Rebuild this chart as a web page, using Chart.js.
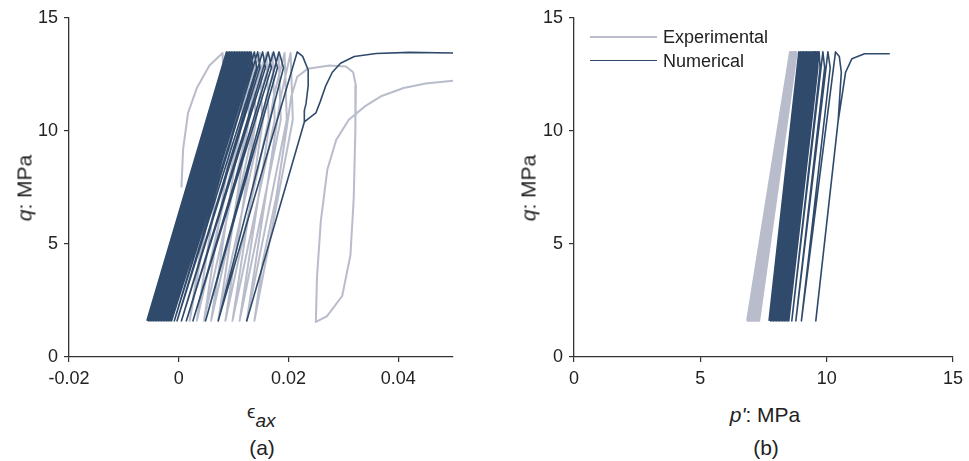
<!DOCTYPE html>
<html>
<head>
<meta charset="utf-8">
<script src="https://cdn.jsdelivr.net/npm/chart.js@4.4.1/dist/chart.umd.min.js"></script>
<style>
    body { margin: 0; background: #fff; }
    #wrap { position: relative; width: 969px; height: 461px; overflow: hidden;
            font-family: "Liberation Sans", Arial, sans-serif; color: #222; }
    #wrap canvas { position: absolute; top: 0; }
    .lbl { position: absolute; white-space: nowrap; font-size: 21px; line-height: 1; }
    .rot { transform: translate(-50%, -50%) rotate(-90deg); }
    .ctr { transform: translate(-50%, -50%); }
    .key { position: absolute; height: 0; width: 67px; border-top: 2px solid; }
    .keytxt { position: absolute; font-size: 18px; line-height: 1; transform: translateY(-50%); }
</style>
</head>
<body>
<div id="wrap">
    <canvas id="chartA" width="480" height="400" style="left:0"></canvas>
    <canvas id="chartB" width="469" height="400" style="left:500px"></canvas>

    <div class="lbl rot" style="left:24px; top:188px"><i>q</i>: MPa</div>
    <div class="lbl" style="left:247px; top:402px; font-size:19px">&#1013;<sub style="font-size:19px; font-style:italic; position:relative; top:4px">ax</sub></div>
    <div class="lbl ctr" style="left:262px; top:447px">(a)</div>

    <div class="lbl rot" style="left:528px; top:188px"><i>q</i>: MPa</div>
    <div class="lbl ctr" style="left:765px; top:414px"><i>p'</i>: MPa</div>
    <div class="lbl ctr" style="left:766px; top:447px">(b)</div>

    <div class="key" style="left:590px; top:36px; border-color:#b9bccb"></div>
    <div class="keytxt" style="left:663px; top:37px">Experimental</div>
    <div class="key" style="left:590px; top:60px; border-color:#2f4a6b; border-top-width:1.6px"></div>
    <div class="keytxt" style="left:663px; top:61px">Numerical</div>
</div>

<script>
const EXP_COLOR = '#b9bccb';
const NUM_COLOR = '#2f4a6b';

// Deviator stress limits of the load cycles (MPa)
const qLow = 1.6;
const qHigh = 13.5;
const qShoulder = 12.8;

// ---- (a) q vs axial strain ----
const xTicksA = [-0.02, 0, 0.02, 0.04];
const yTicks = [0, 5, 10, 15];

// numerical cycles: strain at bottom / top of each reloading line,
// and where the unloading branch passes q = 12.8
const numBottomA = [-0.0058, -0.0055, -0.0052, -0.0049, -0.0046, -0.0043, -0.0040, -0.0037,
    -0.0034, -0.0031, -0.0028, -0.0025, -0.0022, -0.0019, -0.0016, -0.0013,
    -0.0008, -0.0003, 0.0005, 0.0014, 0.0026, 0.0049, 0.0072];
const numTopA = [0.0087, 0.0090, 0.0093, 0.0096, 0.0099, 0.0102, 0.0105, 0.0108,
    0.0111, 0.0114, 0.0117, 0.0120, 0.0123, 0.0126, 0.0129, 0.0132,
    0.0138, 0.0144, 0.0153, 0.0163, 0.0173, 0.0183, 0.0216];
const numShoulderA = [0.0090, 0.0093, 0.0096, 0.0099, 0.0102, 0.0105, 0.0108, 0.0111,
    0.0114, 0.0117, 0.0120, 0.0123, 0.0126, 0.0129, 0.0132, 0.0135,
    0.0142, 0.0148, 0.0158, 0.0169, 0.0180, 0.0191];
// last unloading, final reloading and failure plateau
const numTailA = [[0.0226, 13.3], [0.0236, 12.7], [0.0236, 12.0], [0.0232, 11.2], [0.0229, 10.9],
    [0.0229, 10.4], [0.0124, 1.6], [0.0229, 10.4], [0.0250, 10.8], [0.0258, 11.3],
    [0.0268, 12.0], [0.0280, 12.6], [0.0295, 13.0], [0.0320, 13.3], [0.0360, 13.43],
    [0.0420, 13.48], [0.0500, 13.45]];

// experimental: first loading, then loops (bottom, knee, top, shoulder), then failure
const expStartA = [[0.0005, 7.5], [0.0008, 9.2], [0.0017, 10.8], [0.0033, 11.9],
    [0.0056, 12.9], [0.0080, 13.45], [0.0084, 10.5]];
const expBottomA = [0.0020, 0.0033, 0.0046, 0.0059, 0.0072, 0.0085, 0.0098, 0.0111, 0.0124];
const expKneeA = [0.0082, 0.0095, 0.0108, 0.0121, 0.0134, 0.0147, 0.0160, 0.0173, 0.0186];
const expTopA = [0.0112, 0.0124, 0.0136, 0.0148, 0.0160, 0.0171, 0.0182, 0.0193, 0.0204];
const expShoulderA = [0.0116, 0.0128, 0.0140, 0.0152, 0.0164, 0.0175, 0.0186, 0.0197, 0.0208];
const expTailA = [[0.0138, 1.6], [0.0153, 4.2], [0.0178, 7.1], [0.0196, 10.0], [0.0205, 11.5],
    [0.0216, 12.4], [0.0235, 12.75], [0.0275, 12.9], [0.0305, 12.85], [0.0318, 12.6],
    [0.0323, 12.0], [0.0322, 10.0], [0.0319, 7.0], [0.0313, 4.5], [0.0298, 2.7],
    [0.0270, 1.8], [0.0250, 1.55], [0.0252, 3.5], [0.0259, 6.0], [0.0271, 8.3],
    [0.0287, 9.6], [0.0310, 10.5], [0.0340, 11.1], [0.0370, 11.55], [0.0410, 11.9],
    [0.0450, 12.1], [0.0500, 12.22]];

// ---- (b) q vs mean effective stress ----
const xTicksB = [0, 5, 10, 15];
const numBottomB = [7.72, 7.78, 7.84, 7.90, 7.96, 8.02, 8.08, 8.14, 8.20, 8.26, 8.32, 8.38,
    8.44, 8.50, 8.62, 8.78, 9.00];
const numTopB = [8.90, 8.96, 9.02, 9.08, 9.14, 9.20, 9.26, 9.32, 9.38, 9.44, 9.50, 9.56,
    9.62, 9.70, 9.85, 10.05, 10.35];
const numShoulderB = [8.93, 8.99, 9.05, 9.11, 9.17, 9.23, 9.29, 9.35, 9.41, 9.47, 9.53, 9.59,
    9.65, 9.74, 9.92, 10.14];
const numTailB = [[10.5, 13.3], [10.58, 12.6], [10.5, 11.2], [10.45, 10.4], [9.57, 1.6],
    [10.45, 10.4], [10.6, 11.5], [10.75, 12.6], [11.0, 13.2], [11.5, 13.42], [12.5, 13.42]];
const expBottomB = [6.85, 6.88, 6.91, 6.94, 6.97, 7.00, 7.04, 7.08, 7.13, 7.19, 7.26, 7.33];
const expTopB = [8.55, 8.57, 8.59, 8.61, 8.63, 8.65, 8.67, 8.69, 8.72, 8.75, 8.78, 8.82];

function cyclePath(bottoms, tops, shoulders) {
    // zig-zag between the lower and upper stress limit
    const pts = [];
    for (let i = 0; i < bottoms.length; i++) {
        pts.push({ x: bottoms[i], y: qLow });
        pts.push({ x: tops[i], y: qHigh });
        if (shoulders && i < shoulders.length) {
            pts.push({ x: shoulders[i], y: qShoulder });
        }
    }
    return pts;
}

function pairs(list) {
    return list.map(p => ({ x: p[0], y: p[1] }));
}

function expLoopsA() {
    let pts = pairs(expStartA);
    for (let i = 0; i < expBottomA.length; i++) {
        pts.push({ x: expBottomA[i], y: qLow });
        pts.push({ x: expKneeA[i], y: 11.5 });
        pts.push({ x: expTopA[i], y: 13.45 });
        pts.push({ x: expShoulderA[i], y: 10.5 });
    }
    return pts.concat(pairs(expTailA));
}

function line(data, color, width) {
    return {
        data: data,
        showLine: true,
        borderColor: color,
        backgroundColor: color,
        borderWidth: width,
        borderJoinStyle: 'round',
        pointRadius: 0,
        tension: 0,
        fill: false
    };
}

const font = { family: '"Liberation Sans", Arial, sans-serif', size: 18 };

function makeChart(id, datasets, xMin, xMax, xTicks, yWidth, padRight) {
    const axisLine = { display: true, color: '#333', width: 1.3 };
    const tickGrid = { drawOnChartArea: false, drawTicks: true, tickLength: 5, color: '#333', lineWidth: 1.2 };
    return new Chart(document.getElementById(id), {
        type: 'scatter',
        data: { datasets: datasets },
        options: {
            responsive: false,
            animation: false,
            events: [],
            layout: { padding: { top: 18, right: padRight, left: 0, bottom: 0 } },
            plugins: { legend: { display: false }, tooltip: { enabled: false } },
            scales: {
                x: {
                    type: 'linear', min: xMin, max: xMax,
                    afterBuildTicks: s => { s.ticks = xTicks.map(v => ({ value: v })); },
                    afterFit: s => { s.height = 43; },
                    ticks: { font: font, color: '#222', padding: 6, maxRotation: 0, callback: v => String(v) },
                    grid: tickGrid,
                    border: axisLine
                },
                y: {
                    type: 'linear', min: 0, max: 15,
                    afterBuildTicks: s => { s.ticks = yTicks.map(v => ({ value: v })); },
                    afterFit: s => { s.width = yWidth; },
                    ticks: { font: font, color: '#222', padding: 6, callback: v => String(v) },
                    grid: tickGrid,
                    border: axisLine
                }
            }
        }
    });
}

// numerical first so it is drawn on top
makeChart('chartA', [
    line(cyclePath(numBottomA, numTopA, numShoulderA).concat(pairs(numTailA)), NUM_COLOR, 1.6),
    line(expLoopsA(), EXP_COLOR, 2)
], -0.02, 0.05, xTicksA, 69, 27);

makeChart('chartB', [
    line(cyclePath(numBottomB, numTopB, numShoulderB).concat(pairs(numTailB)), NUM_COLOR, 1.6),
    line(cyclePath(expBottomB, expTopB), EXP_COLOR, 2)
], 0, 15, xTicksB, 74, 14);
</script>
</body>
</html>
